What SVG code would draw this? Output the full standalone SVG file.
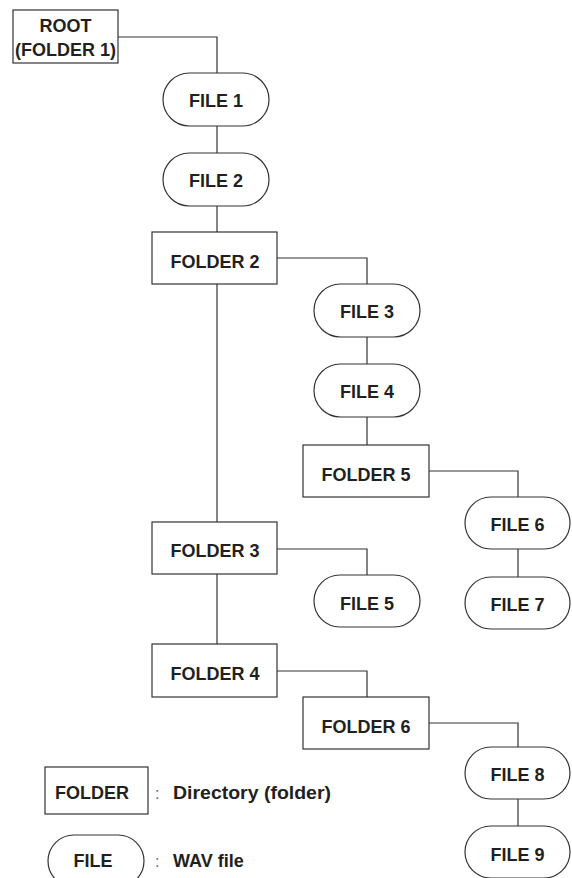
<svg xmlns="http://www.w3.org/2000/svg" width="572" height="878" viewBox="0 0 572 878">
<style>
.box{fill:#fff;stroke:#333;stroke-width:1.2}
.lbl{font-family:"Liberation Sans",Arial,sans-serif;font-weight:bold;font-size:18px;fill:#231f20;text-anchor:middle}
.leg{font-family:"Liberation Sans",Arial,sans-serif;font-weight:bold;font-size:18px;fill:#231f20}
.col{font-family:"Liberation Sans",Arial,sans-serif;font-size:16px;fill:#666}
.con{fill:none;stroke:#333;stroke-width:1.2}
</style>
<rect width="572" height="878" fill="#fff"/>
<g id="connectors">
<polyline class="con" points="118,37 217,37 217,73"/>
<line class="con" x1="217" y1="126" x2="217" y2="153"/>
<line class="con" x1="217" y1="206" x2="217" y2="232"/>
<line class="con" x1="217" y1="284" x2="217" y2="522"/>
<line class="con" x1="217" y1="574" x2="217" y2="644"/>
<polyline class="con" points="277,258 367,258 367,284"/>
<line class="con" x1="367" y1="337" x2="367" y2="364"/>
<line class="con" x1="367" y1="417" x2="367" y2="445"/>
<polyline class="con" points="429,471 518,471 518,497"/>
<line class="con" x1="518" y1="549" x2="518" y2="577"/>
<polyline class="con" points="277,549 367,549 367,575"/>
<polyline class="con" points="277,671 367,671 367,697"/>
<polyline class="con" points="429,723 518,723 518,747"/>
<line class="con" x1="518" y1="799" x2="518" y2="826"/>
</g>
<g id="root"><rect class="box" x="13" y="10" width="105" height="53"/><text class="lbl" x="65.5" y="32">ROOT</text><text class="lbl" x="65.5" y="56">(FOLDER 1)</text></g>
<g id="file1"><rect class="box" x="163" y="73" width="106" height="53" rx="26.5"/><text class="lbl" x="216" y="107">FILE 1</text></g>
<g id="file2"><rect class="box" x="163" y="153" width="106" height="53" rx="26.5"/><text class="lbl" x="216" y="187">FILE 2</text></g>
<g id="folder2"><rect class="box" x="152" y="232" width="125" height="52"/><text class="lbl" x="215" y="268">FOLDER 2</text></g>
<g id="file3"><rect class="box" x="314" y="284" width="106" height="53" rx="26.5"/><text class="lbl" x="367" y="318">FILE 3</text></g>
<g id="file4"><rect class="box" x="314" y="364" width="106" height="53" rx="26.5"/><text class="lbl" x="367" y="398">FILE 4</text></g>
<g id="folder5"><rect class="box" x="303" y="445" width="126" height="52"/><text class="lbl" x="366" y="481">FOLDER 5</text></g>
<g id="file6"><rect class="box" x="465" y="497" width="105" height="52" rx="26"/><text class="lbl" x="517.5" y="531">FILE 6</text></g>
<g id="file7"><rect class="box" x="465" y="577" width="105" height="52" rx="26"/><text class="lbl" x="517.5" y="611">FILE 7</text></g>
<g id="folder3"><rect class="box" x="152" y="522" width="125" height="52"/><text class="lbl" x="215" y="557">FOLDER 3</text></g>
<g id="file5"><rect class="box" x="314" y="575" width="106" height="52" rx="26"/><text class="lbl" x="367" y="610">FILE 5</text></g>
<g id="folder4"><rect class="box" x="152" y="644" width="125" height="53"/><text class="lbl" x="215" y="680">FOLDER 4</text></g>
<g id="folder6"><rect class="box" x="303" y="697" width="126" height="52"/><text class="lbl" x="366" y="733">FOLDER 6</text></g>
<g id="file8"><rect class="box" x="465" y="747" width="105" height="52" rx="26"/><text class="lbl" x="517.5" y="781">FILE 8</text></g>
<g id="file9"><rect class="box" x="465" y="826" width="105" height="52" rx="26"/><text class="lbl" x="517.5" y="861">FILE 9</text></g>
<g id="legend-folder"><rect class="box" x="45" y="767" width="103" height="47"/><text class="lbl" x="92" y="799">FOLDER</text><text class="col" x="155" y="799">:</text><text class="leg" x="173" y="799" textLength="158" lengthAdjust="spacingAndGlyphs">Directory (folder)</text></g>
<g id="legend-file"><rect class="box" x="48" y="835" width="96" height="52" rx="26"/><text class="lbl" x="93" y="867">FILE</text><text class="col" x="155" y="867">:</text><text class="leg" x="173" y="867">WAV file</text></g>
</svg>
